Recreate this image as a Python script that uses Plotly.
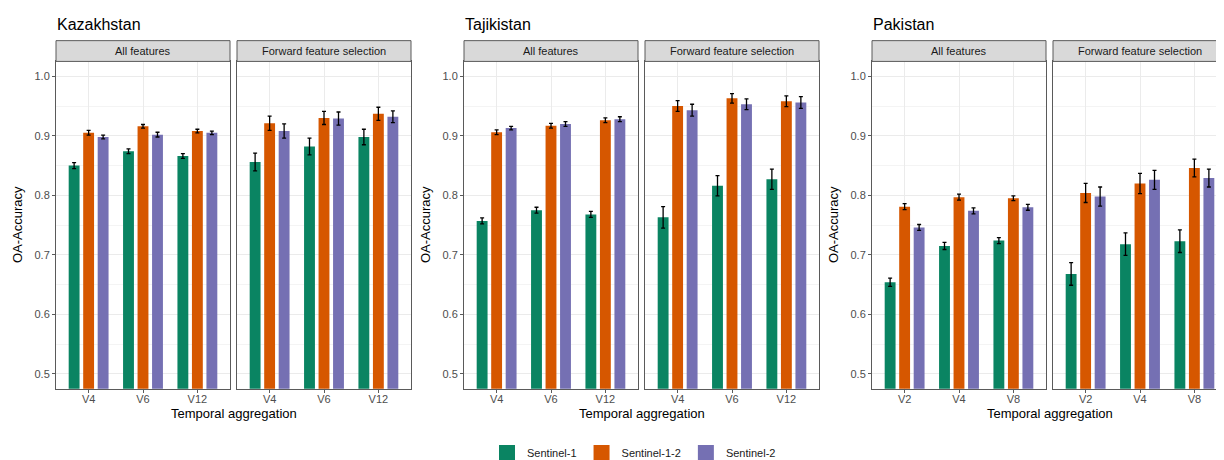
import plotly.graph_objects as go

# ---------------- data ----------------
countries = ["Kazakhstan", "Tajikistan", "Pakistan"]
facets = ["All features", "Forward feature selection"]
sensors = ["Sentinel-1", "Sentinel-1-2", "Sentinel-2"]
colors = ["#0A8462", "#D65700", "#7570B3"]

cats_kaz = ["V4", "V6", "V12"]
cats_taj = ["V4", "V6", "V12"]
cats_pak = ["V2", "V4", "V8"]

# Kazakhstan
kaz_all_s1 = [0.850, 0.874, 0.866]
kaz_all_s12 = [0.905, 0.916, 0.908]
kaz_all_s2 = [0.898, 0.902, 0.905]
kaz_all_s1_err = [0.005, 0.004, 0.004]
kaz_all_s12_err = [0.004, 0.003, 0.003]
kaz_all_s2_err = [0.003, 0.004, 0.003]
kaz_ffs_s1 = [0.856, 0.882, 0.898]
kaz_ffs_s12 = [0.921, 0.930, 0.937]
kaz_ffs_s2 = [0.908, 0.929, 0.932]
kaz_ffs_s1_err = [0.015, 0.014, 0.013]
kaz_ffs_s12_err = [0.012, 0.011, 0.011]
kaz_ffs_s2_err = [0.012, 0.011, 0.010]

# Tajikistan
taj_all_s1 = [0.757, 0.775, 0.768]
taj_all_s12 = [0.906, 0.917, 0.926]
taj_all_s2 = [0.913, 0.920, 0.928]
taj_all_s1_err = [0.005, 0.005, 0.005]
taj_all_s12_err = [0.004, 0.004, 0.004]
taj_all_s2_err = [0.003, 0.004, 0.004]
taj_ffs_s1 = [0.763, 0.816, 0.827]
taj_ffs_s12 = [0.950, 0.963, 0.958]
taj_ffs_s2 = [0.943, 0.953, 0.956]
taj_ffs_s1_err = [0.018, 0.017, 0.017]
taj_ffs_s12_err = [0.009, 0.008, 0.009]
taj_ffs_s2_err = [0.010, 0.009, 0.010]

# Pakistan
pak_all_s1 = [0.654, 0.715, 0.724]
pak_all_s12 = [0.781, 0.797, 0.795]
pak_all_s2 = [0.746, 0.774, 0.780]
pak_all_s1_err = [0.007, 0.006, 0.005]
pak_all_s12_err = [0.005, 0.005, 0.004]
pak_all_s2_err = [0.005, 0.005, 0.005]
pak_ffs_s1 = [0.668, 0.718, 0.723]
pak_ffs_s12 = [0.804, 0.820, 0.846]
pak_ffs_s2 = [0.798, 0.826, 0.829]
pak_ffs_s1_err = [0.019, 0.019, 0.019]
pak_ffs_s12_err = [0.016, 0.017, 0.015]
pak_ffs_s2_err = [0.016, 0.016, 0.015]

y_ticks = [0.5, 0.6, 0.7, 0.8, 0.9, 1.0]

panels = [
    (cats_kaz, [kaz_all_s1, kaz_all_s12, kaz_all_s2], [kaz_all_s1_err, kaz_all_s12_err, kaz_all_s2_err]),
    (cats_kaz, [kaz_ffs_s1, kaz_ffs_s12, kaz_ffs_s2], [kaz_ffs_s1_err, kaz_ffs_s12_err, kaz_ffs_s2_err]),
    (cats_taj, [taj_all_s1, taj_all_s12, taj_all_s2], [taj_all_s1_err, taj_all_s12_err, taj_all_s2_err]),
    (cats_taj, [taj_ffs_s1, taj_ffs_s12, taj_ffs_s2], [taj_ffs_s1_err, taj_ffs_s12_err, taj_ffs_s2_err]),
    (cats_pak, [pak_all_s1, pak_all_s12, pak_all_s2], [pak_all_s1_err, pak_all_s12_err, pak_all_s2_err]),
    (cats_pak, [pak_ffs_s1, pak_ffs_s12, pak_ffs_s2], [pak_ffs_s1_err, pak_ffs_s12_err, pak_ffs_s2_err]),
]

# ---------------- layout geometry (pixels) ----------------
W, H = 1224, 460
panel_px = [(48, 222), (229, 403), (456, 630), (637, 811), (864, 1038), (1045, 1219)]
plot_top, plot_bot = 54, 385
strip_top = 33

FONT = "Liberation Sans, Arial, sans-serif"
BORDER = "#5a5a5a"
GRID = "#EBEBEB"
MINOR = "#F4F4F4"


def px(x):
    return x / W


def py(y):
    return 1 - y / H


fig = go.Figure()

for i, (cats, vals, errs) in enumerate(panels):
    ax = "" if i == 0 else str(i + 1)
    for s in range(3):
        fig.add_trace(go.Bar(
            x=cats, y=vals[s], name=sensors[s],
            marker=dict(color=colors[s], line=dict(width=0)),
            error_y=dict(type="data", array=errs[s], color="black", thickness=1.3, width=2),
            xaxis="x" + ax, yaxis="y" + ax, showlegend=False,
        ))

# legend proxies
for s in range(3):
    fig.add_trace(go.Scatter(
        x=[None], y=[None], mode="markers", name=sensors[s],
        marker=dict(symbol="square", size=19, color=colors[s]),
        showlegend=True, xaxis="x", yaxis="y",
    ))

layout = dict(
    width=W, height=H,
    margin=dict(l=0, r=0, t=0, b=0),
    paper_bgcolor="white", plot_bgcolor="white",
    barmode="group", bargap=0.2, bargroupgap=0.25,
    font=dict(family=FONT, size=11, color="#4D4D4D"),
    legend=dict(orientation="h", x=px(626), xanchor="center", y=py(450), yanchor="middle",
                font=dict(family=FONT, size=11, color="#1a1a1a"), itemsizing="trace",
                traceorder="normal", itemwidth=30),
    shapes=[], annotations=[],
)

for i, (x0, x1) in enumerate(panel_px):
    ax = "" if i == 0 else str(i + 1)
    first = (i % 2 == 0)
    layout["xaxis" + ax] = dict(
        domain=[px(x0), px(x1)], anchor="y" + ax, type="category",
        range=[-0.6, 2.6], showgrid=True, gridcolor=GRID, gridwidth=1,
        showline=True, mirror=True, linecolor=BORDER, linewidth=1,
        ticks="outside", ticklen=3, tickcolor=BORDER, ticklabelstandoff=-3,
        tickfont=dict(family=FONT, size=11, color="#4D4D4D"), zeroline=False,
        fixedrange=True,
    )
    layout["yaxis" + ax] = dict(
        domain=[py(plot_bot), py(plot_top)], anchor="x" + ax,
        range=[0.475, 1.025], tickvals=y_ticks, tickformat=".1f",
        showgrid=True, gridcolor=GRID, gridwidth=1,
        minor=dict(tickvals=[0.55, 0.65, 0.75, 0.85, 0.95], showgrid=True,
                   gridcolor=MINOR, gridwidth=0.6, ticks=""),
        showline=True, mirror=True, linecolor=BORDER, linewidth=1,
        ticks="outside" if first else "", ticklen=3, tickcolor=BORDER,
        showticklabels=first,
        tickfont=dict(family=FONT, size=11, color="#4D4D4D"), zeroline=False,
        fixedrange=True,
    )
    # strip
    layout["shapes"].append(dict(
        type="rect", xref="paper", yref="paper",
        x0=px(x0), x1=px(x1), y0=py(plot_top), y1=py(strip_top),
        fillcolor="#D9D9D9", line=dict(color=BORDER, width=1), layer="above",
    ))
    layout["annotations"].append(dict(
        text=facets[i % 2], xref="paper", yref="paper",
        x=px((x0 + x1) / 2), y=py((strip_top + plot_top) / 2),
        xanchor="center", yanchor="middle", showarrow=False,
        font=dict(family=FONT, size=11, color="#1a1a1a"),
    ))

for c in range(3):
    xl = panel_px[2 * c][0]
    xr = panel_px[2 * c + 1][1]
    layout["annotations"].append(dict(
        text=countries[c], xref="paper", yref="paper", x=px(xl - 1), y=py(17),
        xanchor="left", yanchor="middle", showarrow=False,
        font=dict(family=FONT, size=16, color="black"),
    ))
    layout["annotations"].append(dict(
        text="Temporal aggregation", xref="paper", yref="paper",
        x=px((xl + xr) / 2), y=py(410), xanchor="center", yanchor="middle",
        showarrow=False, font=dict(family=FONT, size=13, color="black"),
    ))
    layout["annotations"].append(dict(
        text="OA-Accuracy", xref="paper", yref="paper",
        x=px(xl - 39), y=py((plot_top + plot_bot) / 2), xanchor="center", yanchor="middle",
        textangle=-90, showarrow=False, font=dict(family=FONT, size=13, color="black"),
    ))

fig.update_layout(**layout)
fig.write_html("out.html")
